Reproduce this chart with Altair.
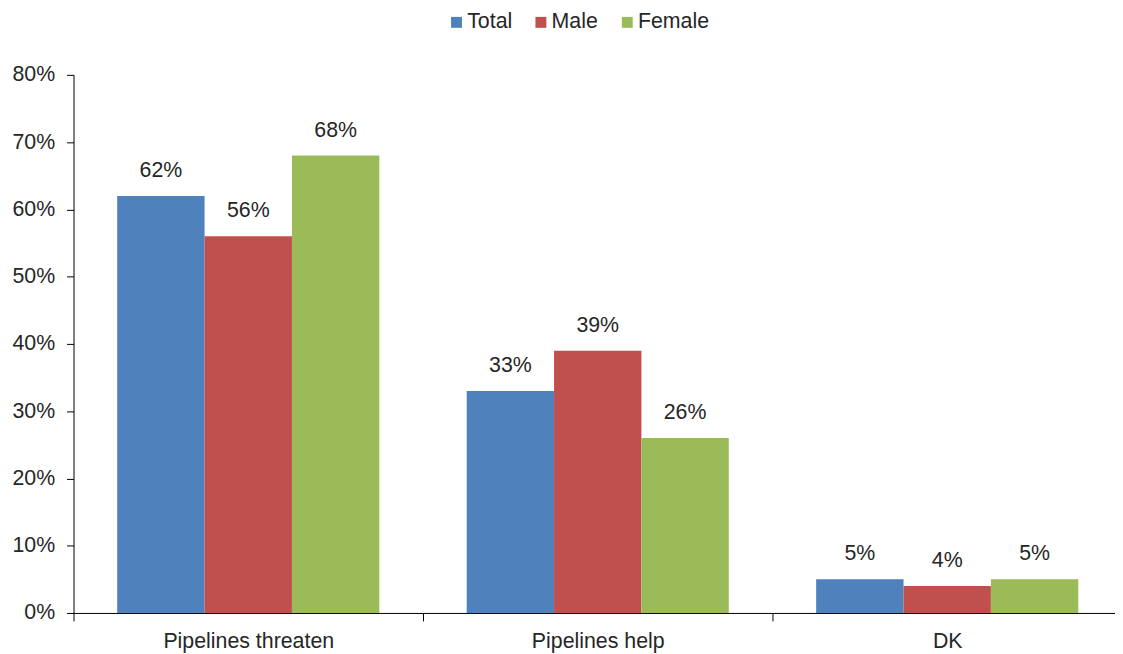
import altair as alt
import pandas as pd

categories = ["Pipelines threaten", "Pipelines help", "DK"]
series = ["Total", "Male", "Female"]
total = [62, 33, 5]
male = [56, 39, 4]
female = [68, 26, 5]
colors = ["#4F81BD", "#C0504D", "#9BBB59"]

rows = []
for s, vals in zip(series, [total, male, female]):
    for c, v in zip(categories, vals):
        rows.append({"category": c, "series": s, "value": v / 100.0, "label": f"{v}%"})
df = pd.DataFrame(rows)

FONT = "Liberation Sans"
FS = 21.5

base = alt.Chart(df).encode(
    x=alt.X("category:N", sort=categories, title=None,
            scale=alt.Scale(range=[0, 1056], paddingInner=0, paddingOuter=0),
            axis=alt.Axis(labelAngle=0, tickBand="extent", tickSize=8, labelPadding=10,
                          domainColor="#000000", tickColor="#000000",
                          labelFontSize=FS, labelColor="#262626", labelFont=FONT)),
    xOffset=alt.XOffset("series:N", sort=series,
                        scale=alt.Scale(paddingInner=0, paddingOuter=0.5)),
    y=alt.Y("value:Q", title=None,
            scale=alt.Scale(domain=[0, 0.8], nice=False),
            axis=alt.Axis(format=".0%", values=[i / 10 for i in range(9)], grid=False,
                          tickSize=7, labelPadding=12, domainColor="#000000",
                          tickColor="#000000", labelFontSize=FS, labelColor="#262626",
                          labelFont=FONT)),
)

bars = base.mark_bar().encode(
    color=alt.Color("series:N", sort=series,
                    scale=alt.Scale(domain=series, range=colors),
                    legend=alt.Legend(title=None, orient="none", direction="horizontal",
                                      legendX=375, legendY=-64, symbolType="square",
                                      symbolSize=121, symbolStrokeWidth=0,
                                      labelFontSize=FS, labelFont=FONT,
                                      labelColor="#262626", columnPadding=18,
                                      labelOffset=0))
)

text = base.mark_text(dy=-25, fontSize=FS, font=FONT, color="#262626", baseline="middle").encode(
    text="label:N"
)

chart = (bars + text).properties(
    width=1049, height=542,
    autosize=alt.AutoSizeParams(type="none"),
    padding={"left": 66, "top": 65, "right": 0, "bottom": 38},
).configure_view(stroke=None)

chart.save("out.html", embed_options={"renderer": "svg", "actions": False})
